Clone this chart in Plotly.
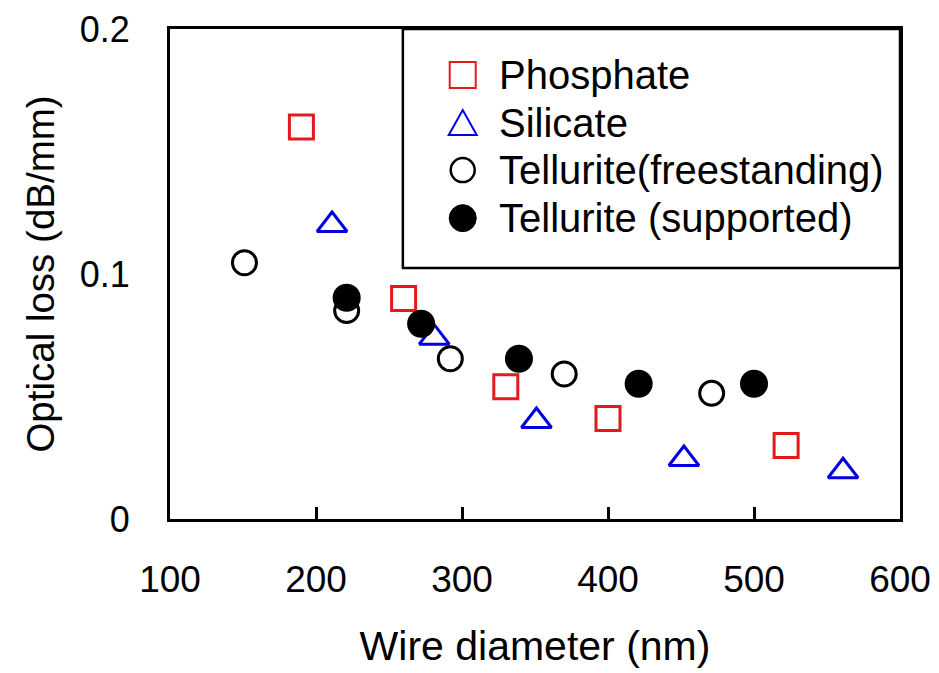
import plotly.graph_objects as go

# data
phos_x = [190, 260, 330, 400, 522]
phos_y = [0.160, 0.090, 0.054, 0.041, 0.030]

sil_x = [211, 281, 351, 452, 561]
sil_y = [0.120, 0.074, 0.040, 0.0245, 0.0195]

tel_free_x = [151, 221, 292, 370, 471]
tel_free_y = [0.1046, 0.0851, 0.0654, 0.0592, 0.0513]

tel_sup_x = [221, 272, 339, 421, 500]
tel_sup_y = [0.0903, 0.0797, 0.0654, 0.0552, 0.0552]

names = ["Phosphate", "Silicate", "Tellurite(freestanding)", "Tellurite (supported)"]
x_ticks = [100, 200, 300, 400, 500, 600]
y_ticks = [0, 0.1, 0.2]
y_ticktext = ["0", "0.1", "0.2"]

FONT = "Arial, Liberation Sans, sans-serif"
RED = "#e41a1c"
BLUE = "#0000e0"

fig = go.Figure()
fig.add_trace(go.Scatter(x=phos_x, y=phos_y, mode="markers", name=names[0],
                         marker=dict(symbol="square-open", size=24, color=RED, line=dict(width=3, color=RED))))
fig.add_trace(go.Scatter(x=sil_x, y=sil_y, mode="markers", name=names[1],
                         marker=dict(symbol="triangle-up-open", size=26, color=BLUE, line=dict(width=3, color=BLUE))))
fig.add_trace(go.Scatter(x=tel_free_x, y=tel_free_y, mode="markers", name=names[2],
                         marker=dict(symbol="circle", size=24, color="white", line=dict(width=3, color="black"))))
fig.add_trace(go.Scatter(x=tel_sup_x, y=tel_sup_y, mode="markers", name=names[3],
                         marker=dict(symbol="circle", size=28, color="black", line=dict(width=0))))

# hand-made legend so the symbols keep their full size
shapes = [dict(type="rect", xref="paper", yref="paper", x0=0.319, x1=1.0, y0=0.512, y1=1.0,
               line=dict(color="black", width=2.5), layer="above")]
sym_x = 0.401
rows = [0.906, 0.808, 0.712, 0.614]
shapes.append(dict(type="rect", xref="paper", yref="paper", xsizemode="pixel", ysizemode="pixel",
                   xanchor=sym_x, yanchor=rows[0], x0=-13, x1=13, y0=-13, y1=13,
                   line=dict(color=RED, width=2)))
shapes.append(dict(type="path", xref="paper", yref="paper", xsizemode="pixel", ysizemode="pixel",
                   xanchor=sym_x, yanchor=rows[1], path="M -14,-12 L 14,-12 L 0,13 Z",
                   line=dict(color=BLUE, width=2)))
shapes.append(dict(type="circle", xref="paper", yref="paper", xsizemode="pixel", ysizemode="pixel",
                   xanchor=sym_x, yanchor=rows[2], x0=-12, x1=12, y0=-12, y1=12,
                   line=dict(color="black", width=2.5)))
shapes.append(dict(type="circle", xref="paper", yref="paper", xsizemode="pixel", ysizemode="pixel",
                   xanchor=sym_x, yanchor=rows[3], x0=-13.5, x1=13.5, y0=-13.5, y1=13.5,
                   fillcolor="black", line=dict(color="black", width=1)))

annotations = []
for nm, ry in zip(names, rows):
    annotations.append(dict(text=nm, xref="paper", yref="paper", x=0.448, y=ry,
                            xanchor="left", yanchor="middle", showarrow=False,
                            font=dict(size=40, color="black", family=FONT)))

# the page body adds an 8px margin, so the figure is a bit smaller than the window
fig.update_layout(
    width=931, height=665,
    margin=dict(l=162, r=39, t=21, b=154),
    paper_bgcolor="white", plot_bgcolor="white",
    showlegend=False,
    font=dict(family=FONT, color="black"),
    shapes=shapes,
    annotations=annotations,
)
fig.update_xaxes(range=[100, 600], tickvals=x_ticks, ticks="inside", ticklen=12, tickwidth=3,
                 tickcolor="black", showline=True, linewidth=3, linecolor="black", mirror=True,
                 showgrid=False, zeroline=False, tickfont=dict(size=37), ticklabelstandoff=26,
                 automargin=False,
                 title=dict(text="Wire diameter (nm)", font=dict(size=41), standoff=32))
fig.update_yaxes(range=[0, 0.2], tickvals=y_ticks, ticktext=y_ticktext, ticks="",
                 showline=True, linewidth=3, linecolor="black", mirror=True,
                 showgrid=False, zeroline=False, tickfont=dict(size=36), ticklabelstandoff=30,
                 automargin=False,
                 title=dict(text="Optical loss (dB/mm)", font=dict(size=38.5), standoff=14))

fig.write_html("out.html")
